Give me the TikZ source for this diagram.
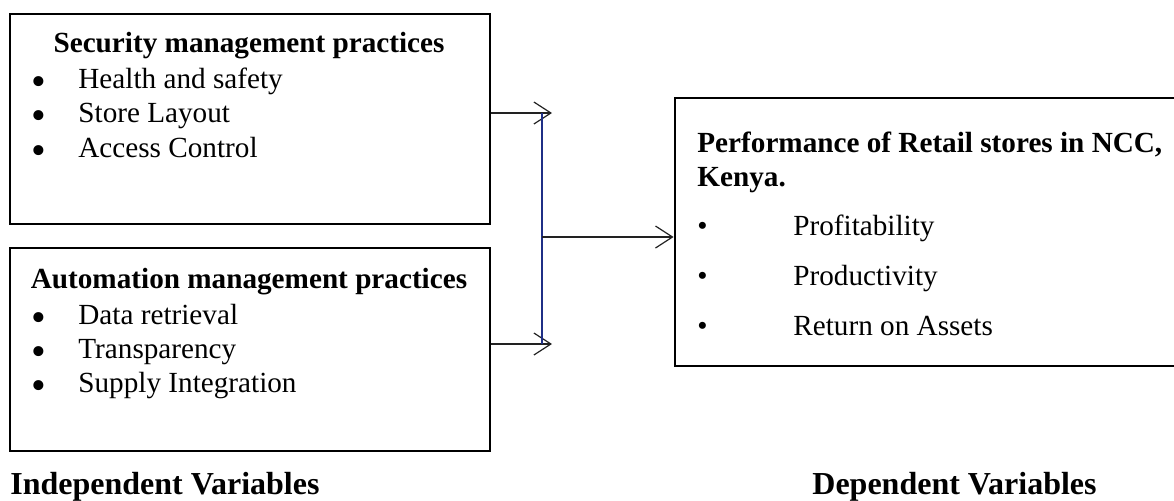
\documentclass[tikz,border=0pt]{standalone}
\usepackage{fontspec}
\setmainfont{Liberation Serif}
\usepackage{tikz}
\usetikzlibrary{positioning,calc,arrows.meta}
\definecolor{CLink}{HTML}{1F2F86}
\definecolor{CLine}{HTML}{222222}

\begin{document}
\begin{tikzpicture}[x=0.5pt,y=-0.5pt,
  every node/.style={inner sep=0pt},
  varbox/.style={draw, line width=1.4pt, rectangle},
  head/.style={anchor=base, font=\fontsize{14.6}{17}\selectfont\bfseries},
  item/.style={anchor=base west, font=\fontsize{14.6}{17}\selectfont},
  bigdot/.style={anchor=base west, yshift=-3.5pt, font=\fontsize{21}{21}\selectfont},
  caption/.style={anchor=base west, font=\fontsize{16}{19}\selectfont\bfseries},
  link/.style={CLine, line width=0.6pt, -{Straight Barb[length=8.5pt,width=11pt]}}]
  \useasboundingbox (0,0) rectangle (1174,500);

  % independent variables
  \node[varbox, minimum width=240pt, minimum height=105pt] (sec) at (250,119) {};
  \node[varbox, minimum width=240pt, minimum height=101.5pt] (auto) at (250,349.5) {};
  \node[head] (sectitle) at (249,52) {Security management practices};
  \node[head] (autotitle) at (249,288) {Automation management practices};
  \foreach \y/\t [count=\i] in {88/Health and safety,122/Store Layout,157/Access Control}{
    \node[bigdot] (secdot\i) at (31,\y) {\textbullet};
    \node[item] (secitem\i) at (78,\y) {\t};
  }
  \foreach \y/\t [count=\i] in {324/Data retrieval,358/Transparency,392/Supply Integration}{
    \node[bigdot] (autodot\i) at (31,\y) {\textbullet};
    \node[item] (autoitem\i) at (78,\y) {\t};
  }

  % dependent variable (box runs past the right edge)
  \node[varbox, minimum width=252.5pt, minimum height=134pt] (perf) at (927.5,232) {};
  \node[head, anchor=base west] (perftitle) at (697,152) {Performance of Retail stores in NCC,};
  \node[head, anchor=base west] (perfkenya) at (697,186) {Kenya.};
  \foreach \y/\t [count=\i] in {235/Profitability,285/Productivity,335/Return on Assets}{
    \node[item] (perfdot\i) at (697,\y) {\textbullet};
    \node[item] (perfitem\i) at (793,\y) {\t};
  }

  % connectors
  \coordinate (jtop) at (542,113);
  \coordinate (jbot) at (542,344);
  \coordinate (jmid) at (542,237);
  \coordinate (tiptop) at (552,113);
  \coordinate (tipbot) at (552,344);
  \draw[link] (sec.east |- tiptop) -- (tiptop);
  \draw[link] (auto.east |- tipbot) -- (tipbot);
  \draw[CLink, line width=0.6pt] (jtop) -- (jbot);
  \draw[link] (jmid) -- (perf.west |- jmid);

  \node[caption] (indep) at (10,494) {Independent Variables};
  \node[caption] (dep) at (812,494) {Dependent Variables};
\end{tikzpicture}
\end{document}
